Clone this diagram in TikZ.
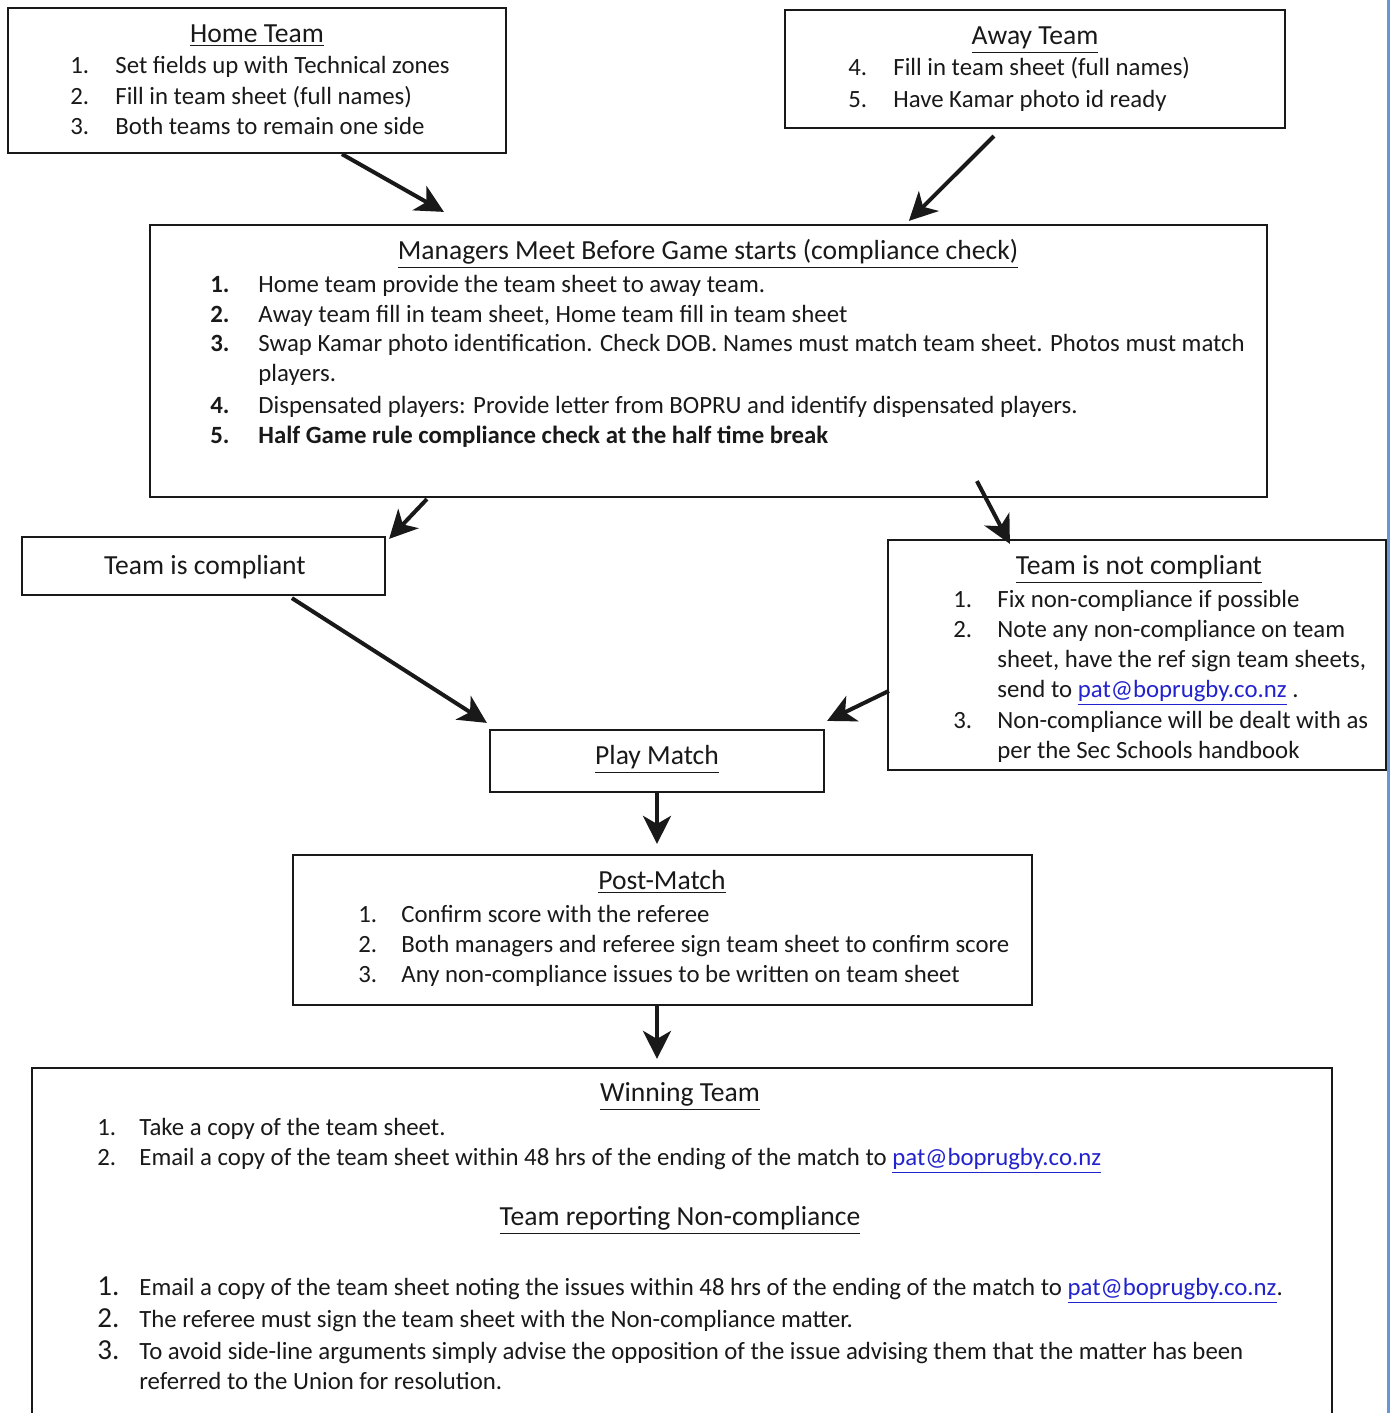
\documentclass[tikz,border=0pt]{standalone}
\usepackage{fontspec}
\setmainfont{Carlito}
\usetikzlibrary{arrows.meta,calc,fit}
\definecolor{linkblue}{RGB}{35,35,205}
\definecolor{frameblue}{RGB}{105,150,215}
\definecolor{ink}{RGB}{25,25,25}

\tikzset{
  box/.style={draw=ink, line width=1.1pt, inner sep=0pt},
  head/.style={anchor=mid, inner sep=0pt, yshift=-2pt, text=ink, font=\fontsize{13.8}{16}\selectfont},
  txt/.style={anchor=mid west, inner sep=0pt, yshift=-2pt, text=ink, font=\fontsize{12.4}{15}\selectfont},
  flow/.style={draw=ink, line width=2pt, -{Stealth[length=14pt,width=14pt,inset=4pt]}},
}

\begin{document}
\begin{tikzpicture}[x=0.5pt,y=-0.5pt]
\useasboundingbox (0,0) rectangle (1391,1413);
\clip (0,0) rectangle (1391,1413);
\fill[white] (0,0) rectangle (1391,1413);

% home team
\node[box, fit={(8,8) (506,153)}] (home) {};
\node[head] (home-t) at (257,34) {\underline{Home Team}};
\node[txt] (home-n1) at (70,65) {1.};
\node[txt] (home-1) at (115,65) {Set fields up with Technical zones};
\node[txt] (home-n2) at (70,96) {2.};
\node[txt] (home-2) at (115,96) {Fill in team sheet (full names)};
\node[txt] (home-n3) at (70,126) {3.};
\node[txt] (home-3) at (115,126) {Both teams to remain one side};

% away team
\node[box, fit={(785,10) (1285,128)}] (away) {};
\node[head] (away-t) at (1035,36) {\underline{Away Team}};
\node[txt] (away-n4) at (848,67) {4.};
\node[txt] (away-4) at (893,67) {Fill in team sheet (full names)};
\node[txt] (away-n5) at (848,99) {5.};
\node[txt] (away-5) at (893,99) {Have Kamar photo id ready};

% managers meet
\node[box, fit={(150,225) (1267,497)}] (mgr) {};
\node[head] (mgr-t) at (708,251) {\underline{Managers Meet Before Game starts (compliance check)}};
\node[txt] (mgr-n1) at (210,284) {\bfseries 1.};
\node[txt] (mgr-1) at (258,284) {Home team provide the team sheet to away team.};
\node[txt] (mgr-n2) at (210,314) {\bfseries 2.};
\node[txt] (mgr-2) at (258,314) {Away team fill in team sheet, Home team fill in team sheet};
\node[txt] (mgr-n3) at (210,343) {\bfseries 3.};
\node[txt] (mgr-3) at (258,343) {Swap Kamar photo identification. Check DOB. Names must match team sheet. Photos must match};
\node[txt] (mgr-3b) at (258,373) {players.};
\node[txt] (mgr-n4) at (210,405) {\bfseries 4.};
\node[txt] (mgr-4) at (258,405) {Dispensated players: Provide letter from BOPRU and identify dispensated players.};
\node[txt] (mgr-n5) at (210,435) {\bfseries 5.};
\node[txt] (mgr-5) at (258,435) {\bfseries Half Game rule compliance check at the half time break};

% compliant
\node[box, fit={(22,537) (385,595)}] (comp) {};
\node[head] (comp-t) at (205,566) {Team is compliant};

% not compliant
\node[box, fit={(888,540) (1386,770)}] (nonc) {};
\node[head] (nonc-t) at (1139,566) {\underline{Team is not compliant}};
\node[txt] (nonc-n1) at (953,599) {1.};
\node[txt] (nonc-1) at (997,599) {Fix non-compliance if possible};
\node[txt] (nonc-n2) at (953,629) {2.};
\node[txt] (nonc-2) at (997,629) {Note any non-compliance on team};
\node[txt] (nonc-2b) at (997,659) {sheet, have the ref sign team sheets,};
\node[txt] (nonc-2c) at (997,689) {send to \textcolor{linkblue}{\underline{pat@boprugby.co.nz}} .};
\node[txt] (nonc-n3) at (953,720) {3.};
\node[txt] (nonc-3) at (997,720) {Non-compliance will be dealt with as};
\node[txt] (nonc-3b) at (997,750) {per the Sec Schools handbook};

% play match
\node[box, fit={(490,730) (824,792)}] (play) {};
\node[head] (play-t) at (657,756) {\underline{Play Match}};

% post match
\node[box, fit={(293,855) (1032,1005)}] (post) {};
\node[head] (post-t) at (662,881) {\underline{Post-Match}};
\node[txt] (post-n1) at (358,914) {1.};
\node[txt] (post-1) at (401,914) {Confirm score with the referee};
\node[txt] (post-n2) at (358,944) {2.};
\node[txt] (post-2) at (401,944) {Both managers and referee sign team sheet to confirm score};
\node[txt] (post-n3) at (358,974) {3.};
\node[txt] (post-3) at (401,974) {Any non-compliance issues to be written on team sheet};

% winning team / reporting
\node[box, fit={(32,1068) (1332,1430)}] (win) {};
\node[head] (win-t) at (680,1093) {\underline{Winning Team}};
\node[txt] (win-n1) at (97,1127) {1.};
\node[txt] (win-1) at (139,1127) {Take a copy of the team sheet.};
\node[txt] (win-n2) at (97,1157) {2.};
\node[txt] (win-2) at (139,1157) {Email a copy of the team sheet within 48 hrs of the ending of the match to \textcolor{linkblue}{\underline{pat@boprugby.co.nz}}};
\node[head] (rep-t) at (680,1217) {\underline{Team reporting Non-compliance}};
\node[txt,font=\fontsize{14.5}{16}\selectfont] (rep-n1) at (97,1287) {1.};
\node[txt] (rep-1) at (139,1287) {Email a copy of the team sheet noting the issues within 48 hrs of the ending of the match to \textcolor{linkblue}{\underline{pat@boprugby.co.nz}}.};
\node[txt,font=\fontsize{14.5}{16}\selectfont] (rep-n2) at (97,1319) {2.};
\node[txt] (rep-2) at (139,1319) {The referee must sign the team sheet with the Non-compliance matter.};
\node[txt,font=\fontsize{14.5}{16}\selectfont] (rep-n3) at (97,1351) {3.};
\node[txt] (rep-3) at (139,1351) {To avoid side-line arguments simply advise the opposition of the issue advising them that the matter has been};
\node[txt] (rep-3b) at (139,1381) {referred to the Union for resolution.};

% arrows
\draw[flow] ($(home.south west)+(335,0)$) -- ($(mgr.north west)+(295,-12)$);
\draw[flow] ($(away.south west)+(210,7)$) -- ($(mgr.north west)+(760,-3)$);
\draw[flow] ($(mgr.south west)+(278,1)$) -- ($(comp.north east)+(3,3)$);
\draw[flow] ($(mgr.south west)+(828,-17)$) -- ($(nonc.north west)+(123,5)$);
\draw[flow] ($(comp.south west)+(271,2)$) -- ($(play.north west)+(-2,-6)$);
\draw[flow] ($(nonc.north west)+(2,152)$) -- ($(play.north east)+(2,-8)$);
\draw[flow] (play.south) -- ($(play.south |- post.north)+(0,-10)$);
\draw[flow] (post.south -| play.south) -- ($(play.south |- win.north)+(0,-8)$);

% window edge
\draw[frameblue, line width=1.5pt] (1388,0) -- (1388,1413);
\end{tikzpicture}
\end{document}
